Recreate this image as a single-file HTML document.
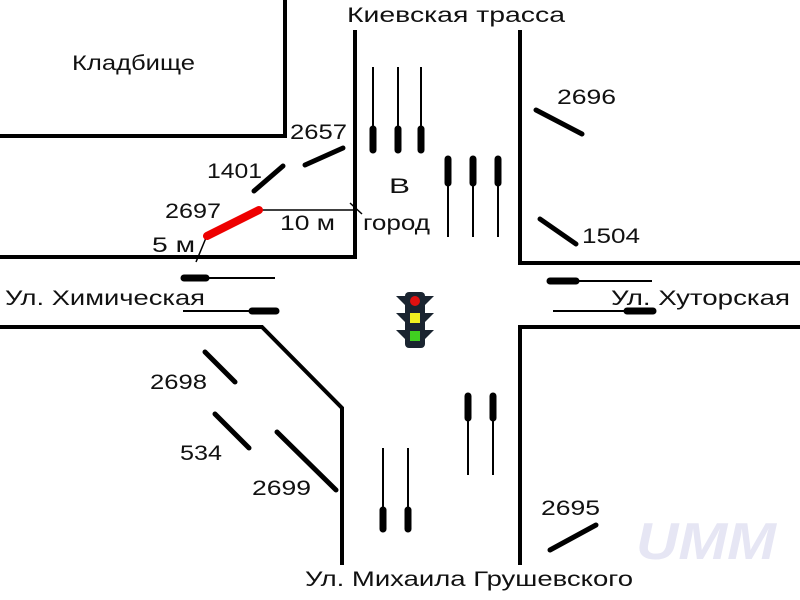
<!DOCTYPE html>
<html><head><meta charset="utf-8"><style>
html,body{margin:0;padding:0;background:#fff;}
svg{display:block;}
text{font-family:"Liberation Sans","DejaVu Sans",sans-serif;font-size:21px;fill:#111;}
</style></head><body>
<svg width="800" height="600" viewBox="0 0 800 600" xmlns="http://www.w3.org/2000/svg">
<rect width="800" height="600" fill="#fff"/>
<g stroke="#000" stroke-width="4" fill="none">
<polyline points="285,0 285,136 0,136"/>
<polyline points="355,30 355,257 0,257"/>
<polyline points="520,30 520,263 800,263"/>
<polyline points="800,327 520,327 520,565"/>
<polyline points="0,327 262,327 342,408 342,565"/>
</g>
<g stroke="#000" stroke-width="2">
<line x1="258" y1="210" x2="357" y2="210" stroke-width="1.5"/>
<line x1="350" y1="203" x2="362" y2="214" stroke-width="1.5"/>
<line x1="196" y1="262" x2="208" y2="233" stroke-width="1.5"/>
<line x1="373" y1="67" x2="373" y2="153"/><line x1="398" y1="67" x2="398" y2="153"/><line x1="421" y1="67" x2="421" y2="153"/>
<line x1="448" y1="156" x2="448" y2="237"/><line x1="473" y1="156" x2="473" y2="237"/><line x1="498" y1="156" x2="498" y2="237"/>
<line x1="383" y1="448" x2="383" y2="532"/><line x1="408" y1="448" x2="408" y2="532"/>
<line x1="468" y1="393" x2="468" y2="475"/><line x1="493" y1="393" x2="493" y2="475"/>
<line x1="182" y1="278" x2="275" y2="278"/><line x1="183" y1="311" x2="278" y2="311"/>
<line x1="548" y1="281" x2="652" y2="281"/><line x1="553" y1="311" x2="655" y2="311"/>
</g>
<g stroke="#000" stroke-width="7" stroke-linecap="round">
<line x1="373" y1="129" x2="373" y2="150"/><line x1="398" y1="129" x2="398" y2="150"/><line x1="421" y1="129" x2="421" y2="150"/>
<line x1="448" y1="159" x2="448" y2="183"/><line x1="473" y1="159" x2="473" y2="183"/><line x1="498" y1="159" x2="498" y2="183"/>
<line x1="383" y1="510" x2="383" y2="529"/><line x1="408" y1="510" x2="408" y2="529"/>
<line x1="468" y1="396" x2="468" y2="418"/><line x1="493" y1="396" x2="493" y2="418"/>
<line x1="184" y1="278" x2="206" y2="278"/><line x1="252" y1="311" x2="276" y2="311"/>
<line x1="550" y1="281" x2="576" y2="281"/><line x1="627" y1="311" x2="653" y2="311"/>
</g>
<g stroke="#000" stroke-width="5" stroke-linecap="round">
<line x1="305" y1="165" x2="343" y2="148"/>
<line x1="254" y1="191" x2="283" y2="166"/>
<line x1="536" y1="110" x2="582" y2="134"/>
<line x1="540" y1="219" x2="576" y2="244"/>
<line x1="205" y1="352" x2="235" y2="382"/>
<line x1="215" y1="414" x2="249" y2="448"/>
<line x1="277" y1="432" x2="336" y2="490"/>
<line x1="550" y1="550" x2="596" y2="525"/>
</g>
<line x1="207" y1="236" x2="259" y2="210" stroke="#e00" stroke-width="8" stroke-linecap="round"/>
<g>
<rect x="405" y="292" width="20" height="56" rx="4" fill="#1a2430"/>
<polygon points="396,296 405,296 405,305" fill="#1a2430"/><polygon points="434,296 425,296 425,305" fill="#1a2430"/>
<polygon points="396,313 405,313 405,322" fill="#1a2430"/><polygon points="434,313 425,313 425,322" fill="#1a2430"/>
<polygon points="396,330 405,330 405,339" fill="#1a2430"/><polygon points="434,330 425,330 425,339" fill="#1a2430"/>
<circle cx="415" cy="301" r="5" fill="#e01010"/>
<rect x="410" y="313" width="10" height="10" fill="#f0f020"/>
<rect x="410" y="331" width="10" height="10" fill="#40d020"/>
</g>
<g lengthAdjust="spacingAndGlyphs">
<text x="72" y="70" textLength="123" lengthAdjust="spacingAndGlyphs">Кладбище</text>
<text x="347" y="22" textLength="218" lengthAdjust="spacingAndGlyphs">Киевская трасса</text>
<text x="290" y="139" textLength="57" lengthAdjust="spacingAndGlyphs">2657</text>
<text x="207" y="178" textLength="55" lengthAdjust="spacingAndGlyphs">1401</text>
<text x="165" y="218" textLength="56" lengthAdjust="spacingAndGlyphs">2697</text>
<text x="152" y="252" textLength="43" lengthAdjust="spacingAndGlyphs">5 м</text>
<text x="280" y="230" textLength="55" lengthAdjust="spacingAndGlyphs">10 м</text>
<text x="389" y="193" textLength="21" lengthAdjust="spacingAndGlyphs">В</text>
<text x="363" y="230" textLength="67" lengthAdjust="spacingAndGlyphs">город</text>
<text x="557" y="104" textLength="59" lengthAdjust="spacingAndGlyphs">2696</text>
<text x="582" y="243" textLength="58" lengthAdjust="spacingAndGlyphs">1504</text>
<text x="5" y="305" textLength="200" lengthAdjust="spacingAndGlyphs">Ул. Химическая</text>
<text x="611" y="305" textLength="179" lengthAdjust="spacingAndGlyphs">Ул. Хуторская</text>
<text x="150" y="389" textLength="57" lengthAdjust="spacingAndGlyphs">2698</text>
<text x="180" y="460" textLength="42" lengthAdjust="spacingAndGlyphs">534</text>
<text x="252" y="495" textLength="59" lengthAdjust="spacingAndGlyphs">2699</text>
<text x="541" y="515" textLength="59" lengthAdjust="spacingAndGlyphs">2695</text>
<text x="305" y="586" textLength="328" lengthAdjust="spacingAndGlyphs">Ул. Михаила Грушевского</text>
<text x="636" y="559" textLength="140" lengthAdjust="spacingAndGlyphs" style="font-size:52px;font-style:italic;font-weight:bold;fill:#e6e6f4">UMM</text>
</g>
</svg>
</body></html>
